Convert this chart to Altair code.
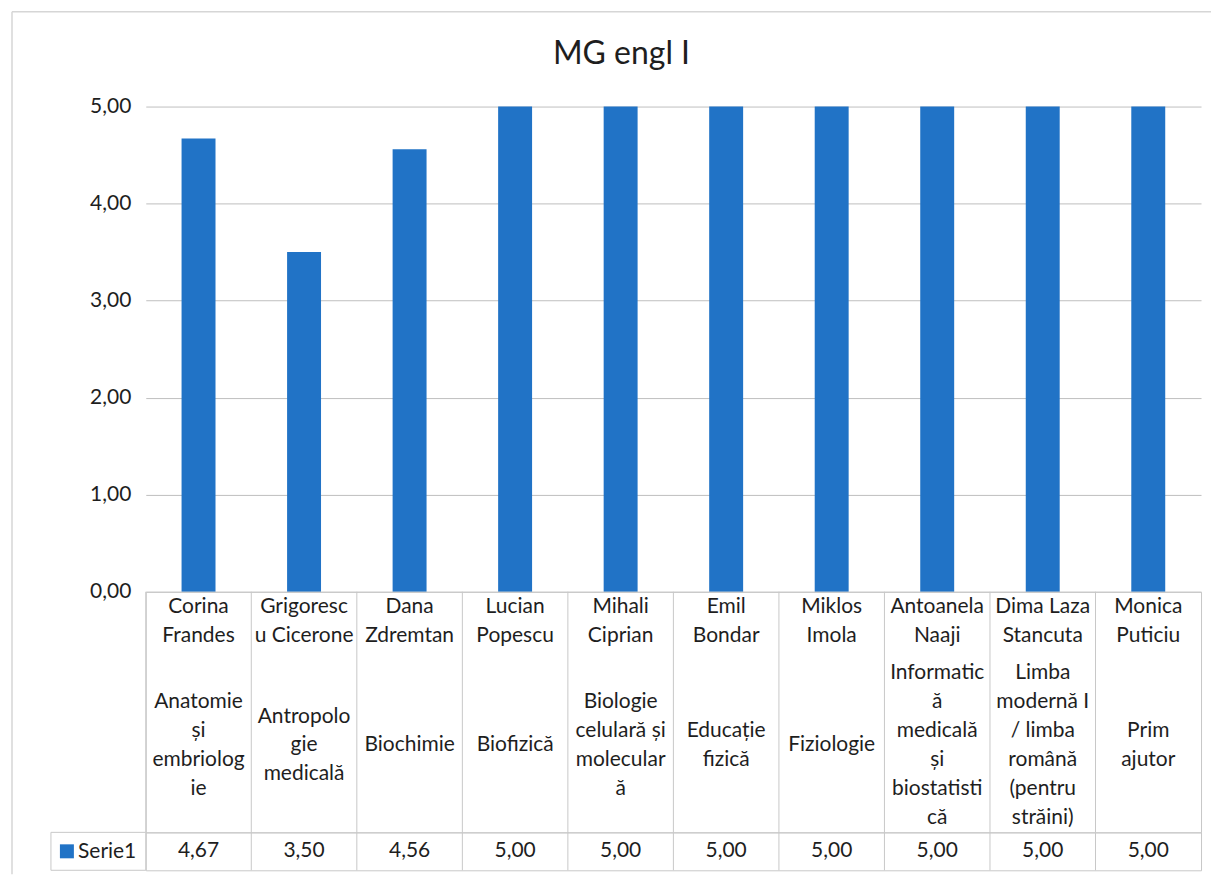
import altair as alt
import pandas as pd

title_text = "MG engl I"
series_name = "Serie1"
teacher_lines = [
    ["Corina", "Frandes"],
    ["Grigoresc", "u Cicerone"],
    ["Dana", "Zdremtan"],
    ["Lucian", "Popescu"],
    ["Mihali", "Ciprian"],
    ["Emil", "Bondar"],
    ["Miklos", "Imola"],
    ["Antoanela", "Naaji"],
    ["Dima Laza", "Stancuta"],
    ["Monica", "Puticiu"],
]
subject_lines = [
    ["Anatomie", "și", "embriolog", "ie"],
    ["Antropolo", "gie", "medicală"],
    ["Biochimie"],
    ["Biofizică"],
    ["Biologie", "celulară și", "molecular", "ă"],
    ["Educație", "fizică"],
    ["Fiziologie"],
    ["Informatic", "ă", "medicală", "și", "biostatisti", "că"],
    ["Limba", "modernă I", "/ limba", "română", "(pentru", "străini)"],
    ["Prim", "ajutor"],
]
values = [4.67, 3.50, 4.56, 5.00, 5.00, 5.00, 5.00, 5.00, 5.00, 5.00]
y_ticks = [0, 1, 2, 3, 4, 5]

keys = [" ".join(t) for t in teacher_lines]
df = pd.DataFrame({
    "key": keys,
    "teacher": ["\n".join(t) for t in teacher_lines],
    "subject": ["\n".join(s) for s in subject_lines],
    "nlines": [len(s) for s in subject_lines],
    "value": values,
    "label": [f"{v:.2f}".replace(".", ",") for v in values],
    "series": [series_name] * len(values),
})

FONT = "Lato"
BLUE = "#2173C6"
GRID = "#BFBFBF"
LINE = "#C8C8C8"
FRAME = "#D6D6D6"
TXT = "#1E1E1E"
W = 1057
H1, H2, H3 = 486, 241, 38
LH = 29

xband = alt.Scale(type="band", paddingInner=0, paddingOuter=0, domain=keys)

def xenc(**kw):
    return alt.X("key:N", sort=keys, scale=xband, axis=None, **kw)

one = pd.DataFrame({"series": [series_name]})

# Panel 1: bars (+ outer chart-area frame)
bars = alt.Chart(df).mark_bar(size=34, color=BLUE).encode(
    x=xenc(),
    y=alt.Y("value:Q", scale=alt.Scale(domain=[0, 5], nice=False),
            axis=alt.Axis(values=y_ticks, title=None, ticks=False, domain=False,
                          grid=True, gridColor=GRID, gridWidth=1,
                          labelExpr="replace(format(datum.value, '.2f'), '.', ',')",
                          labelFont=FONT, labelFontSize=21, labelColor=TXT,
                          labelPadding=15)),
)
frame_top = alt.Chart(one).mark_rule(color=FRAME, strokeWidth=1.5).encode(
    x=alt.value(-134), x2=alt.value(W + 10), y=alt.value(-95))
frame_left = alt.Chart(one).mark_rule(color=FRAME, strokeWidth=1.5).encode(
    x=alt.value(-134), y=alt.value(-95), y2=alt.value(H1 + H2 + H3 + 4))
panel1 = alt.layer(frame_top, frame_left, bars).properties(
    width=W, height=H1, view=alt.ViewBackground(stroke="transparent"))

# Panel 2: category header cells
cols2 = alt.Chart(df).mark_rule(color=LINE, strokeWidth=1).encode(
    x=xenc(bandPosition=0), y=alt.value(0), y2=alt.value(H2))
names = alt.Chart(df).mark_text(font=FONT, fontSize=21, color=TXT, lineBreak="\n",
                                lineHeight=LH, baseline="middle", align="center").encode(
    x=xenc(), y=alt.value(15), text="teacher:N")
subjects = alt.Chart(df).transform_calculate(
    off=f"-(datum.nlines - 1) * {LH} / 2"
).mark_text(font=FONT, fontSize=21, color=TXT, lineBreak="\n",
            lineHeight=LH, baseline="middle", align="center").encode(
    x=xenc(), y=alt.value(154),
    yOffset=alt.YOffset("off:Q", scale=None),
    text="subject:N")
header = alt.layer(cols2, names, subjects).properties(
    width=W, height=H2, view=alt.ViewBackground(stroke=LINE))

# Panel 3: values row with legend key
cols3 = alt.Chart(df).mark_rule(color=LINE, strokeWidth=1).encode(
    x=xenc(bandPosition=0), y=alt.value(0), y2=alt.value(H3))
vals = alt.Chart(df).mark_text(font=FONT, fontSize=21, color=TXT, baseline="middle",
                               align="center").encode(
    x=xenc(),
    y=alt.Y("series:N", title=None,
            axis=alt.Axis(ticks=False, domain=False, labelFont=FONT, labelFontSize=21,
                          labelColor=TXT, labelPadding=10)),
    text="label:N")
leg_top = alt.Chart(one).mark_rule(color=LINE).encode(
    x=alt.value(-95), x2=alt.value(0), y=alt.value(0))
leg_bot = alt.Chart(one).mark_rule(color=LINE).encode(
    x=alt.value(-95), x2=alt.value(0), y=alt.value(H3))
leg_left = alt.Chart(one).mark_rule(color=LINE).encode(
    x=alt.value(-95), y=alt.value(0), y2=alt.value(H3))
leg_key = alt.Chart(one).mark_square(size=196, color=BLUE, opacity=1, filled=True).encode(
    x=alt.value(-79), y=alt.value(H3 / 2))
row = alt.layer(cols3, vals, leg_top, leg_bot, leg_left, leg_key).properties(
    width=W, height=H3, view=alt.ViewBackground(stroke=LINE))

chart = alt.vconcat(panel1, header, row, spacing=0, bounds="flush").properties(
    title=alt.TitleParams(title_text, font=FONT, fontSize=32, fontWeight="normal",
                          color=TXT, anchor="middle", offset=-61, dx=10),
    padding={"left": 2, "top": 1, "right": 0, "bottom": 0},
    background="white",
)

chart.save("out.html", embed_options={"renderer": "svg", "actions": False})
